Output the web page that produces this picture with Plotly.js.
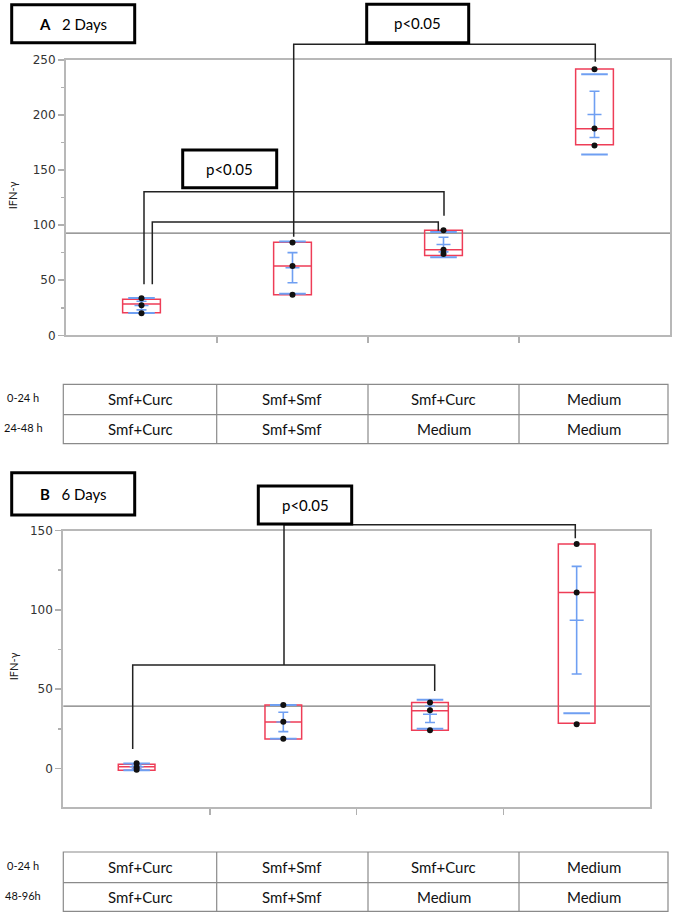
<!DOCTYPE html>
<html>
<head>
<meta charset="utf-8">
<script src="https://cdn.plot.ly/plotly-3.0.1.min.js"></script>
<style>html,body{margin:0;padding:0;background:#fff}#chart{width:680px;height:916px}</style>
</head>
<body>
<div id="chart"></div>
<script>
// ---------------- DATA ----------------
const groups = [0, 1, 2, 3];
// Panel A (2 days)
const ptsA = [[33.6, 27.3, 20.0], [84.2, 63.0, 36.9], [95.5, 77.8, 73.9], [241.5, 187.8, 172.4]];
const q1A = [20.5, 36.9, 72.4, 173.0];
const medA = [28.5, 63.0, 77.8, 187.5];
const q3A = [32.7, 84.5, 95.5, 241.8];
const meanA = [27.0, 61.4, 82.4, 200.6];
const seA = [3.9, 13.7, 6.6, 21.0];
const sdA = [6.8, 23.7, 11.5, 36.5];
const grandMeanA = 92.7;
// Panel B (6 days)
const ptsB = [[3.3, 0.9, -0.8], [40.0, 29.5, 18.8], [41.7, 36.7, 24.1], [141.5, 111.0, 28.0]];
const q1B = [-1.1, 18.6, 24.1, 28.5];
const medB = [1.1, 29.3, 36.4, 111.0];
const q3B = [2.8, 40.0, 41.7, 141.5];
const meanB = [1.1, 29.4, 34.2, 93.5];
const seB = [1.2, 6.1, 5.2, 33.9];
const sdB = [2.1, 10.6, 9.1, 58.7];
const grandMeanB = 39.4;
// Tables
const rowLabelsA = ['0-24 h', '24-48 h'];
const rowLabelsB = ['0-24 h', '48-96h'];
const row1 = ['Smf+Curc', 'Smf+Smf', 'Smf+Curc', 'Medium'];
const row2 = ['Smf+Curc', 'Smf+Smf', 'Medium', 'Medium'];
const titleA = '<b>A</b>   2 Days';
const titleB = '<b>B</b>   6 Days';
const pText = 'p<0.05';
const yTitle = 'IFN-γ';

// ---------------- HELPERS ----------------
const W = 680, H = 916;
const fx = x => x / W;
const fy = y => 1 - y / H;
const RED = '#ee3d57', BLUE = '#6f9ff2', FONT = 'Lato, "Open Sans", sans-serif';

function panelTraces(pts, q1, med, q3, mean, se, sd, xa, ya) {
  const tr = [];
  tr.push({type: 'box', x: groups, q1: q1, median: med, q3: q3, lowerfence: q1, upperfence: q3,
    width: 0.25, boxpoints: false, fillcolor: 'rgba(0,0,0,0)', line: {color: RED, width: 1.5},
    xaxis: xa, yaxis: ya, hoverinfo: 'skip', showlegend: false});
  // SD lines
  const sdx = [], sdy = [];
  groups.forEach((g, i) => { sdx.push(g, g); sdy.push(mean[i] + sd[i], mean[i] - sd[i]); });
  tr.push({type: 'scatter', mode: 'markers', x: sdx, y: sdy, xaxis: xa, yaxis: ya,
    marker: {symbol: 'line-ew', size: 19, line: {color: BLUE, width: 2}}, showlegend: false, hoverinfo: 'skip'});
  // mean +/- SE
  tr.push({type: 'scatter', mode: 'markers', x: groups, y: mean, xaxis: xa, yaxis: ya,
    marker: {symbol: 'line-ew', size: 10, line: {color: BLUE, width: 1.5}},
    error_y: {type: 'data', array: se, visible: true, color: BLUE, thickness: 1.6, width: 5},
    showlegend: false, hoverinfo: 'skip'});
  // data points
  const px = [], pyv = [];
  pts.forEach((arr, i) => arr.forEach(v => { px.push(groups[i]); pyv.push(v); }));
  tr.push({type: 'scatter', mode: 'markers', x: px, y: pyv, xaxis: xa, yaxis: ya,
    marker: {color: '#111', size: 6}, showlegend: false, hoverinfo: 'skip'});
  return tr;
}

const data = [].concat(
  panelTraces(ptsA, q1A, medA, q3A, meanA, seA, sdA, 'x', 'y'),
  panelTraces(ptsB, q1B, medB, q3B, meanB, seB, sdB, 'x2', 'y2')
);

const shapes = [];
const annotations = [];
function path(points, color, width) {
  const d = points.map((p, i) => (i ? 'L' : 'M') + fx(p[0]) + ',' + fy(p[1])).join(' ');
  shapes.push({type: 'path', xref: 'paper', yref: 'paper', path: d, line: {color: color, width: width}, layer: 'above'});
}
function boxText(x0, y0, x1, y1, text, size) {
  shapes.push({type: 'rect', xref: 'paper', yref: 'paper', x0: fx(x0), x1: fx(x1), y0: fy(y1), y1: fy(y0),
    line: {color: '#000', width: 3}, fillcolor: '#fff', layer: 'above'});
  annotations.push({xref: 'paper', yref: 'paper', x: fx((x0 + x1) / 2), y: fy((y0 + y1) / 2),
    text: text, showarrow: false, xanchor: 'center', yanchor: 'middle', font: {family: FONT, size: size, color: '#000'}});
}
function table(top, mid, bot, labels) {
  const xs = [63.3, 216.7, 368, 519, 668];
  shapes.push({type: 'rect', xref: 'paper', yref: 'paper', x0: fx(xs[0]), x1: fx(xs[4]), y0: fy(bot), y1: fy(top),
    line: {color: '#8a8a8a', width: 1.2}});
  shapes.push({type: 'line', xref: 'paper', yref: 'paper', x0: fx(xs[0]), x1: fx(xs[4]), y0: fy(mid), y1: fy(mid),
    line: {color: '#8a8a8a', width: 1.2}});
  for (let i = 1; i < 4; i++) shapes.push({type: 'line', xref: 'paper', yref: 'paper', x0: fx(xs[i]), x1: fx(xs[i]),
    y0: fy(top), y1: fy(bot), line: {color: '#8a8a8a', width: 1.2}});
  [row1, row2].forEach((row, r) => {
    const yc = r === 0 ? (top + mid) / 2 : (mid + bot) / 2;
    row.forEach((t, i) => annotations.push({xref: 'paper', yref: 'paper', x: fx((xs[i] + xs[i + 1]) / 2), y: fy(yc),
      text: t, showarrow: false, xanchor: 'center', yanchor: 'middle', font: {family: FONT, size: 15, color: '#111'}}));
    annotations.push({xref: 'paper', yref: 'paper', x: fx(23), y: fy(yc - 2), text: labels[r], showarrow: false,
      xanchor: 'center', yanchor: 'middle', font: {family: FONT, size: 11, color: '#111'}});
  });
}

// grand mean lines
shapes.push({type: 'line', xref: 'x domain', yref: 'y', x0: 0, x1: 1, y0: grandMeanA, y1: grandMeanA, line: {color: '#7a7a7a', width: 1.2}, layer: 'below'});
shapes.push({type: 'line', xref: 'x2 domain', yref: 'y2', x0: 0, x1: 1, y0: grandMeanB, y1: grandMeanB, line: {color: '#7a7a7a', width: 1.2}, layer: 'below'});

// Panel A brackets
path([[293.7, 236.7], [293.7, 44.3], [595.3, 44.3], [595.3, 61.7]], '#222', 1.5);
path([[144, 284.3], [144, 191.7], [444, 191.7], [444, 215.7]], '#222', 1.5);
path([[152.3, 284.3], [152.3, 222], [438.3, 222], [438.3, 230.7]], '#222', 1.5);
boxText(11.7, 4.7, 134.7, 42.7, titleA, 15);
boxText(366.7, 4.3, 468.7, 42.7, pText, 15);
boxText(182.7, 150, 276.7, 187.7, pText, 15);
// Panel B brackets
path([[132.7, 749], [132.7, 665], [434.7, 665], [434.7, 691]], '#222', 1.5);
path([[284, 665], [284, 524.7], [575.3, 524.7], [575.3, 538.3]], '#222', 1.5);
boxText(11.7, 472.7, 134.7, 515, titleB, 15);
boxText(258.3, 486, 351.7, 524, pText, 15);

// y titles
annotations.push({xref: 'paper', yref: 'paper', x: fx(13.3), y: fy(195), text: yTitle, textangle: -90, showarrow: false,
  xanchor: 'center', yanchor: 'middle', font: {family: FONT, size: 11, color: '#222'}});
annotations.push({xref: 'paper', yref: 'paper', x: fx(13.3), y: fy(666), text: yTitle, textangle: -90, showarrow: false,
  xanchor: 'center', yanchor: 'middle', font: {family: FONT, size: 11, color: '#222'}});

table(384.3, 414.7, 443.7, rowLabelsA);
table(852, 882.7, 911.3, rowLabelsB);

const axCommon = {showline: true, mirror: true, linecolor: '#b8b8b8', linewidth: 2, showgrid: false, zeroline: false,
  ticks: 'outside', ticklen: 6, tickcolor: '#b0b0b0', tickwidth: 1.5, fixedrange: true};
const xCommon = Object.assign({}, axCommon, {range: [-0.5, 3.5], tickmode: 'array', tickvals: [0.5, 1.5, 2.5], showticklabels: false});
const yCommon = Object.assign({}, axCommon, {tick0: 0, dtick: 50, tickfont: {family: '"DejaVu Sans", sans-serif', size: 12, color: '#333'},
  minor: {dtick: 25, tick0: 0, ticks: 'outside', ticklen: 3, tickcolor: '#b0b0b0', showgrid: false}});

const layout = {
  width: W, height: H, margin: {l: 0, r: 0, t: 0, b: 0}, paper_bgcolor: '#fff', plot_bgcolor: '#fff',
  showlegend: false, boxmode: 'overlay',
  xaxis: Object.assign({}, xCommon, {domain: [fx(66), fx(670)], anchor: 'y'}),
  yaxis: Object.assign({}, yCommon, {domain: [fy(335.3), fy(60)], range: [0, 250], anchor: 'x'}),
  xaxis2: Object.assign({}, xCommon, {domain: [fx(63.3), fx(650)], anchor: 'y2'}),
  yaxis2: Object.assign({}, yCommon, {domain: [fy(806.7), fy(530.5)], range: [-24, 150], anchor: 'x2'}),
  shapes: shapes, annotations: annotations
};
Plotly.newPlot('chart', data, layout, {displayModeBar: false, staticPlot: true});
</script>
</body>
</html>
